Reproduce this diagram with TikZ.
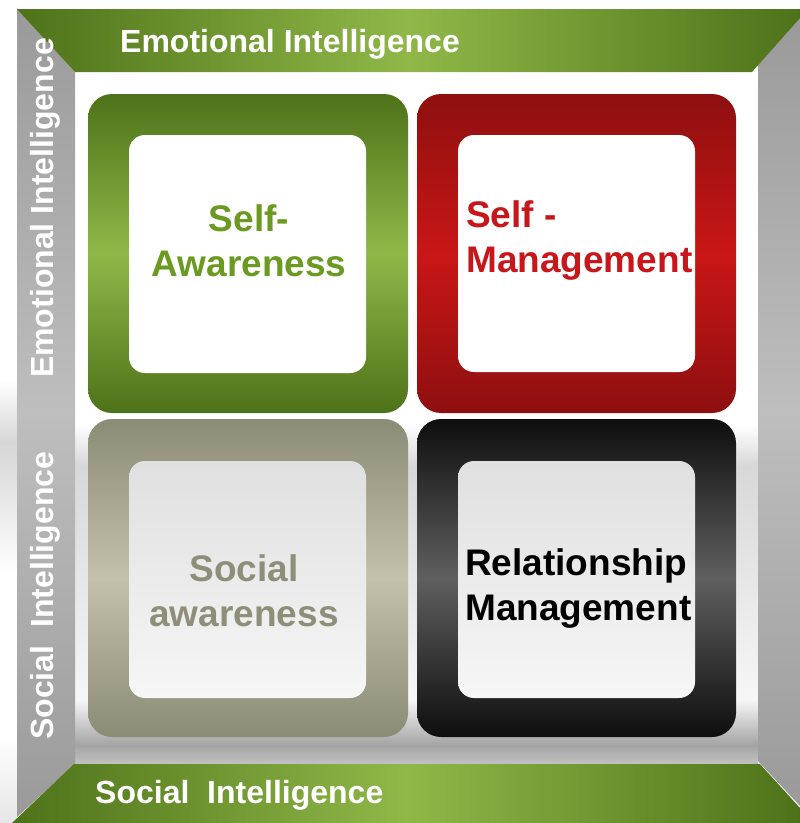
\documentclass[tikz,border=0pt]{standalone}
\usepackage{fontspec}
\setmainfont{Liberation Sans}

% palette
\definecolor{gdark}{HTML}{4E7219}
\definecolor{glight}{HTML}{8FB848}
\definecolor{gtext}{HTML}{6A9A1F}
\definecolor{rdark}{HTML}{8E0F0F}
\definecolor{rlight}{HTML}{C91616}
\definecolor{rtext}{HTML}{C8161B}
\definecolor{odark}{HTML}{8C8B76}
\definecolor{olight}{HTML}{C3C0AB}
\definecolor{otext}{HTML}{8E8E79}
\definecolor{kdark}{HTML}{0E0E0E}
\definecolor{klight}{HTML}{5F5F5F}
\definecolor{bdark}{HTML}{9A9A9A}
\definecolor{blight}{HTML}{BEBEBE}
\definecolor{floorA}{HTML}{F6F6F6}
\definecolor{floorB}{HTML}{A4A4A4}
\definecolor{floorC}{HTML}{C2C2C2}
\definecolor{floorD}{HTML}{D8D8D8}
\definecolor{sideA}{HTML}{D6D6D6}
\definecolor{sideB}{HTML}{E6E6E6}

% floor shading behind the lower row (bottom at 25bp, top at 75bp)
\pgfdeclareverticalshading{floorshade}{100bp}{%
  color(0bp)=(floorC); color(25bp)=(floorC); color(27.6bp)=(floorB);
  color(33.8bp)=(floorA); color(66bp)=(floorD); color(71.6bp)=(white);
  color(100bp)=(white)}
% soft reflection left of the frame
\pgfdeclareverticalshading{sideshade}{100bp}{%
  color(0bp)=(sideB); color(25bp)=(sideB); color(35bp)=(white);
  color(53bp)=(white); color(68bp)=(sideA); color(75bp)=(white);
  color(100bp)=(white)}

\tikzset{
  greenband/.style={left color=gdark, right color=gdark, middle color=glight},
  grayband/.style={top color=bdark, bottom color=bdark, middle color=blight},
  bandtext/.style={font=\fontsize{32}{38}\selectfont\bfseries, text=white, inner sep=0pt},
  tile/.style={rounded corners=24pt},
  tilecore/.style={rounded corners=16pt},
  lbl/.style={font=\fontsize{37}{45}\selectfont\bfseries, inner sep=0pt}
}

\begin{document}
\begin{tikzpicture}[x=1pt,y=-1pt]
\useasboundingbox (0,0) rectangle (800,823);
\fill[white] (0,0) rectangle (800,823);

% backdrop
\path[shading=sideshade] (0,380) rectangle (17,823);
\path[shading=floorshade] (75,400) rectangle (758,764);

% frame: side bands
\path[grayband] (17,8) -- (75,72) -- (75,764) -- (17,817) -- cycle;
\path[grayband] (758,62) -- (800,16) -- (800,806) -- (758,761) -- cycle;

% frame: top and bottom bands
\path[greenband] (17,9) -- (800,9) -- (800,18) -- (752,72) -- (75,72) -- cycle;
\path[greenband] (12,823) -- (74,764) -- (760,764) -- (800,808) -- (800,823) -- cycle;

% band labels
\node[bandtext, anchor=base west] (toplbl) at (120,52) {Emotional Intelligence};
\node[bandtext, anchor=base west] (botlbl) at (95,803) {Social\ \ Intelligence};
\node[bandtext, anchor=base west, rotate=90] (leftup) at (53,378) {Emotional Intelligence};
\node[bandtext, anchor=base west, rotate=90] (leftlow) at (53,740) {Social\ \ Intelligence};

% upper left tile
\path[tile, top color=gdark, bottom color=gdark, middle color=glight] (88,94) rectangle (408,413);
\fill[tilecore, white] (129,135) rectangle (366,373);
\node[lbl, text=gtext, align=center] (selfaw) at (249,241) {Self-\\Awareness};

% upper right tile
\path[tile, top color=rdark, bottom color=rdark, middle color=rlight] (417,94) rectangle (736,413);
\fill[tilecore, white] (458,135) rectangle (695,372);
\node[lbl, text=rtext, align=left, anchor=west] (selfmg) at (466,241) {Self -\\Management};

% lower left tile
\path[tile, top color=odark, bottom color=odark, middle color=olight] (88,419) rectangle (408,737);
\path[tilecore, top color=floorD!80!white, bottom color=floorA] (129,461) rectangle (366,698);
\node[lbl, text=otext, align=center] (socaw) at (244,591) {Social\\awareness};

% lower right tile
\path[tile, top color=kdark, bottom color=kdark, middle color=klight] (417,419) rectangle (736,737);
\path[tilecore, top color=floorD!80!white, bottom color=floorA] (458,461) rectangle (695,698);
\node[lbl, text=black, align=left, anchor=west] (relmg) at (465,589) {Relationship\\Management};
\end{tikzpicture}
\end{document}
